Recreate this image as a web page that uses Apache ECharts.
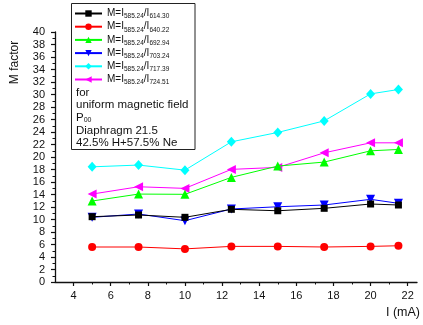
<!DOCTYPE html>
<html>
<head>
<meta charset="utf-8">
<script src="https://cdn.jsdelivr.net/npm/echarts@6/dist/echarts.min.js"></script>
<style>
  html, body { margin: 0; padding: 0; background: #fff; }
  #chart { width: 423px; height: 325px; }
</style>
</head>
<body>
<div id="chart"></div>
<script>
// Discharge current (mA)
const currents = [5, 7.5, 10, 12.5, 15, 17.5, 20, 21.5];

// M factor for each line ratio I(585.24)/I(x)
const m614 = [10.45, 10.72, 10.35, 11.63, 11.40, 11.79, 12.48, 12.32];
const m640 = [5.6, 5.6, 5.3, 5.7, 5.7, 5.6, 5.7, 5.8];
const m692 = [12.96, 14.07, 14.03, 16.74, 18.55, 19.19, 20.99, 21.21];
const m703 = [10.35, 10.88, 9.81, 11.68, 12.04, 12.32, 13.23, 12.59];
const m717 = [18.43, 18.71, 17.90, 22.43, 23.93, 25.78, 30.10, 30.80];
const m724 = [14.07, 15.24, 14.98, 18.02, 18.34, 20.67, 22.27, 22.27];

// Reference line and the divided lines (nm)
const refLine = '585.24';
const lineLabels = ['614.30', '640.22', '692.94', '703.24', '717.39', '724.51'];

// Tick values along the current axis
const xMajorTicks = [4, 6, 8, 10, 12, 14, 16, 18, 20, 22];
const xMinorTicks = [5, 7, 9, 11, 13, 15, 17, 19, 21];

// Conditions listed under the legend
const noteLines = ['for', 'uniform magnetic field', '{m|P}{s|00}', 'Diaphragm 21.5', '42.5% H+57.5% Ne'];

const FONT = '"Liberation Sans", Arial, sans-serif';
const INK = '#111';

const chart = echarts.init(document.getElementById('chart'), null, { renderer: 'canvas' });

const seriesValues = [m614, m640, m692, m703, m717, m724];
const colors = ['#000000', '#ff0000', '#00ff00', '#0000ff', '#00ffff', '#ff00ff'];
const symbols = ['rect', 'circle', 'triangle', 'triangle', 'diamond', 'triangle'];
const rotations = [0, 0, 0, 180, 0, 90];
const sizes = [7, 8, 9, 9, [9, 10], 9];

const series = seriesValues.map((vals, i) => ({
  name: 'M=I' + refLine + '/I' + lineLabels[i],
  type: 'line',
  data: currents.map((c, k) => [c, vals[k]]),
  color: colors[i],
  symbol: symbols[i],
  symbolRotate: rotations[i],
  symbolSize: sizes[i],
  showAllSymbol: true,
  lineStyle: { width: 1, color: colors[i] },
  itemStyle: { color: colors[i] },
  emphasis: { disabled: true },
  animation: false,
  z: 3 + (5 - i)
}));

const noteStartY = 92.5;
const notePitch = 12.7;

chart.setOption({
  animation: false,
  backgroundColor: '#fff',
  textStyle: { fontFamily: FONT },
  grid: { left: 55, right: 6, top: 32, bottom: 43, containLabel: false },
  xAxis: [
    {
      type: 'value', min: 3, max: 22.5,
      axisLine: { show: true, onZero: false, lineStyle: { color: INK, width: 1.3 } },
      axisTick: { show: true, customValues: xMajorTicks, length: 4, lineStyle: { color: INK, width: 1.2 } },
      axisLabel: { customValues: xMajorTicks, color: INK, fontSize: 11, fontFamily: FONT, margin: 8 },
      splitLine: { show: false },
      name: 'I (mA)', nameLocation: 'end', nameGap: 3,
      nameTextStyle: { color: INK, fontSize: 12.5, fontFamily: FONT, align: 'right', verticalAlign: 'top', padding: [24, 0, 0, 0] }
    },
    {
      type: 'value', min: 3, max: 22.5, position: 'bottom',
      axisLine: { show: false },
      axisTick: { show: true, customValues: xMinorTicks, length: 2.5, lineStyle: { color: INK, width: 1 } },
      axisLabel: { show: false },
      splitLine: { show: false }
    }
  ],
  yAxis: {
    type: 'value', min: 0, max: 40, interval: 2,
    axisLine: { show: true, onZero: false, lineStyle: { color: INK, width: 1.3 } },
    axisTick: { show: true, length: 4, lineStyle: { color: INK, width: 1.2 } },
    minorTick: { show: true, splitNumber: 2, length: 2.5, lineStyle: { color: INK, width: 1 } },
    axisLabel: { color: INK, fontSize: 11, fontFamily: FONT, margin: 10 },
    splitLine: { show: false }
  },
  legend: {
    orient: 'vertical',
    left: 74, top: 8.5,
    padding: 0,
    itemGap: 1.6,
    itemWidth: 27, itemHeight: 8,
    symbolRotate: 'inherit',
    selectedMode: false,
    data: series.map(s => s.name),
    formatter: function (name) {
      const idx = series.findIndex(s => s.name === name);
      return '{m|M=I}{s|' + refLine + '}{m|/I}{s|' + lineLabels[idx] + '}';
    },
    textStyle: {
      color: INK,
      fontFamily: FONT,
      rich: {
        m: { fontSize: 10, lineHeight: 13.2, fontFamily: FONT, color: INK },
        s: { fontSize: 6.5, lineHeight: 4, verticalAlign: 'bottom', fontFamily: FONT, color: INK }
      }
    }
  },
  graphic: [
    {
      type: 'rect', z: 0,
      shape: { x: 71.5, y: 3.5, width: 123.5, height: 146 },
      style: { fill: '#fff', stroke: '#222', lineWidth: 1 }
    }
  ].concat(noteLines.map((t, i) => ({
    type: 'text', z: 10,
    x: 76, y: noteStartY + i * notePitch,
    style: {
      text: t,
      fill: INK,
      font: '11.5px ' + FONT,
      verticalAlign: 'middle',
      rich: {
        m: { fontSize: 11.5, lineHeight: 12, fontFamily: FONT, fill: INK },
        s: { fontSize: 7, lineHeight: 3, verticalAlign: 'bottom', fontFamily: FONT, fill: INK }
      }
    }
  }))).concat([
    {
      type: 'text', z: 10,
      x: 15, y: 62.5, rotation: Math.PI / 2,
      style: { text: 'M factor', fill: INK, font: '12px ' + FONT, align: 'center', verticalAlign: 'middle' }
    }
  ]),
  series: series
});
</script>
</body>
</html>
